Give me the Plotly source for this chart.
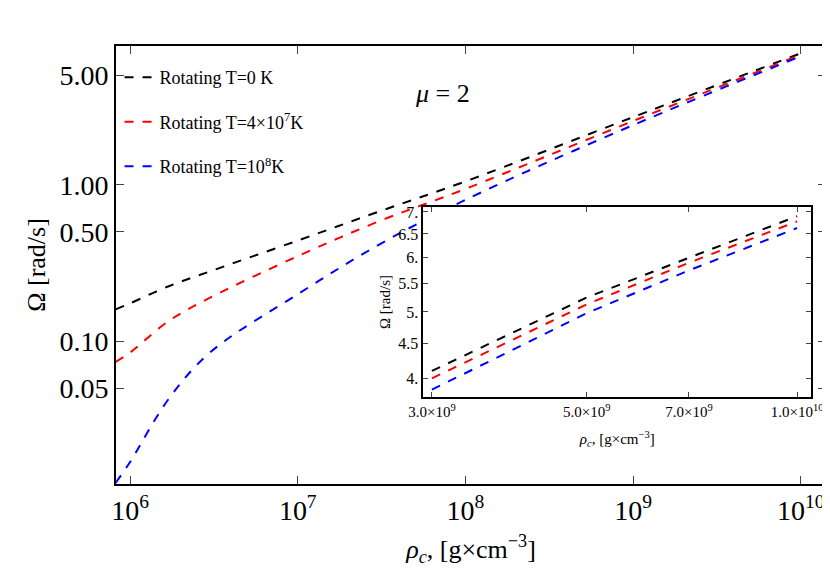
import plotly.graph_objects as go

# Main panel data
rho = [8.2e5, 1e6, 1.7e6, 3e6, 1e7, 3e7, 1e8, 1e9, 1e10]
omega_t0 = [0.16, 0.175, 0.225, 0.28, 0.44, 0.67, 1.05, 2.7, 6.9]
omega_t4e7 = [0.074, 0.085, 0.135, 0.19, 0.35, 0.58, 0.94, 2.55, 6.75]
omega_t1e8 = [0.0125, 0.017, 0.043, 0.085, 0.2, 0.41, 0.8, 2.4, 6.6]

# Inset data
rho_in = [3e9, 5e9, 7e9, 1e10]
in_t0 = [4.1, 5.25, 6.0, 6.9]
in_t4e7 = [4.0, 5.13, 5.9, 6.78]
in_t1e8 = [3.85, 4.98, 5.75, 6.63]

names = ["Rotating T=0 K", "Rotating T=4×10<sup>7</sup>K", "Rotating T=10<sup>8</sup>K"]
colors = ["black", "red", "blue"]

fig = go.Figure()
for y, n, c in zip([omega_t0, omega_t4e7, omega_t1e8], names, colors):
    fig.add_trace(go.Scatter(x=rho, y=y, name=n, legendgroup=n, mode="lines", line_shape="spline",
                             line=dict(color=c, width=2, dash="dash")))
# white background of the inset, drawn in the inset's layer so it hides the main curves
fig.add_trace(go.Scatter(x=[2.5e9, 1.2e10, 1.2e10, 2.5e9], y=[3.0, 3.0, 8.0, 8.0], fill="toself",
                         fillcolor="white", mode="lines", line=dict(width=0), showlegend=False,
                         hoverinfo="skip", xaxis="x2", yaxis="y2"))
for y, c in zip([in_t0, in_t4e7, in_t1e8], colors):
    fig.add_trace(go.Scatter(x=rho_in, y=y, mode="lines", showlegend=False,
                             line=dict(color=c, width=2, dash="dash"),
                             xaxis="x2", yaxis="y2"))

font = dict(family="Liberation Serif", color="black")
axstyle = dict(showline=True, linecolor="black", linewidth=2, mirror="ticks",
               ticks="inside", showgrid=False, zeroline=False)

fig.update_layout(
    width=830, height=577, plot_bgcolor="white", paper_bgcolor="white",
    margin=dict(l=108, r=0, t=38, b=101), font=font,
    xaxis=dict(type="log", range=[5.916, 10.15], tickvals=[1e6, 1e7, 1e8, 1e9, 1e10],
               ticktext=["10<sup>6</sup>", "10<sup>7</sup>", "10<sup>8</sup>", "10<sup>9</sup>", "10<sup>10</sup>"],
               tickfont=dict(size=28), ticklen=8,
               title=dict(text="<i>ρ<sub>c</sub></i>, [g×cm<sup>−3</sup>]", font=dict(size=26)), **axstyle),
    yaxis=dict(type="log", range=[-1.91, 0.885], tickvals=[0.05, 0.1, 0.5, 1, 5],
               ticktext=["0.05", "0.10", "0.50", "1.00", "5.00"], tickfont=dict(size=28), ticklen=8,
               title=dict(text="Ω [rad/s]", font=dict(size=26), standoff=6), **axstyle),
    xaxis2=dict(type="log", domain=[0.433, 0.979], anchor="y2", range=[9.465, 10.02],
                tickvals=[3e9, 5e9, 7e9, 1e10],
                ticktext=["3.0×10<sup>9</sup>", "5.0×10<sup>9</sup>", "7.0×10<sup>9</sup>", "1.0×10<sup>10</sup>"],
                tickfont=dict(size=15), ticklen=5,
                title=dict(text="<i>ρ<sub>c</sub></i>, [g×cm<sup>−3</sup>]", font=dict(size=15)), **axstyle),
    yaxis2=dict(type="log", domain=[0.199, 0.632], anchor="x2", range=[0.575, 0.852],
                tickvals=[4, 4.5, 5, 5.5, 6, 6.5, 7], ticktext=["4.", "4.5", "5.", "5.5", "6.", "6.5", "7."],
                tickfont=dict(size=16), ticklen=5,
                title=dict(text="Ω [rad/s]", font=dict(size=15), standoff=4), **axstyle),
    legend=dict(x=0.005, y=0.97, xanchor="left", yanchor="top", bgcolor="rgba(0,0,0,0)",
                font=dict(family="Liberation Serif", size=18), tracegroupgap=18),
    annotations=[dict(text="<i>μ</i> = 2", x=0.46, y=0.93, xref="paper", yref="paper",
                      showarrow=False, font=dict(size=26, family="Liberation Serif"))],
)

fig.write_html("out.html")
